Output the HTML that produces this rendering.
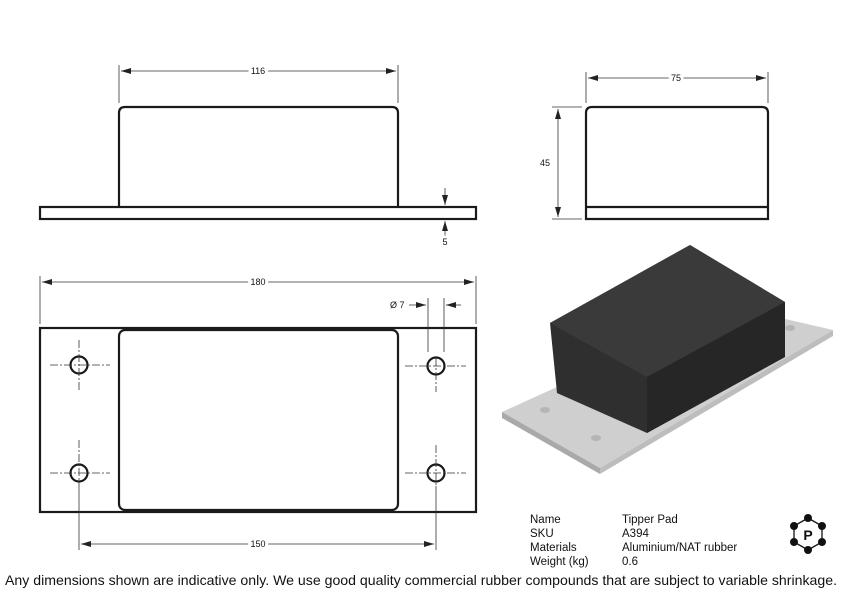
<!DOCTYPE html>
<html><head><style>
body{margin:0;background:#fff;width:843px;height:596px;overflow:hidden;font-family:"Liberation Sans",sans-serif}
svg{position:absolute;left:0;top:0}
.t{font-family:"Liberation Sans",sans-serif;font-size:9px;fill:#111;stroke:#fff;stroke-width:6px;paint-order:stroke}
.i{font-family:"Liberation Sans",sans-serif;font-size:11.5px;fill:#111}
</style></head><body>
<svg width="843" height="596" viewBox="0 0 843 596">
<defs>
<marker id="a" viewBox="0 0 10 6" refX="10" refY="3" markerWidth="10" markerHeight="6" orient="auto-start-reverse" markerUnits="userSpaceOnUse"><path d="M0,0L10,3L0,6z" fill="#222"/></marker>
</defs>
<g fill="none" stroke="#1a1a1a" stroke-width="2.2">
<rect x="40" y="207" width="436" height="12"/>
<path d="M119,207V113Q119,107 125,107H392Q398,107 398,113V207"/>
<path d="M586,219V113Q586,107 592,107H762Q768,107 768,113V219Z"/>
<line x1="586" y1="207" x2="768" y2="207"/>
<rect x="40" y="328" width="436" height="184"/>
<rect x="119" y="330" width="279" height="180" rx="6"/>
<circle cx="79" cy="365" r="8.5"/><circle cx="436" cy="366" r="8.5"/>
<circle cx="79" cy="473" r="8.5"/><circle cx="436" cy="473" r="8.5"/>
</g>
<g stroke="#333" stroke-width="0.8" fill="none">
<line x1="119" y1="65" x2="119" y2="103"/><line x1="398" y1="65" x2="398" y2="103"/>
<line x1="121" y1="71" x2="396" y2="71" marker-start="url(#a)" marker-end="url(#a)"/>
<line x1="586" y1="72" x2="586" y2="103"/><line x1="768" y1="72" x2="768" y2="103"/>
<line x1="588" y1="78" x2="766" y2="78" marker-start="url(#a)" marker-end="url(#a)"/>
<line x1="552" y1="107" x2="582" y2="107"/><line x1="552" y1="219" x2="582" y2="219"/>
<line x1="558" y1="109" x2="558" y2="217" marker-start="url(#a)" marker-end="url(#a)"/>
<line x1="445" y1="188" x2="445" y2="205" marker-end="url(#a)"/>
<line x1="445" y1="237" x2="445" y2="221" marker-end="url(#a)"/>
<line x1="40" y1="276" x2="40" y2="324"/><line x1="476" y1="276" x2="476" y2="324"/>
<line x1="42" y1="282" x2="474" y2="282" marker-start="url(#a)" marker-end="url(#a)"/>
<line x1="428" y1="298" x2="428" y2="352"/><line x1="444" y1="298" x2="444" y2="352"/>
<line x1="409" y1="305" x2="426" y2="305" marker-end="url(#a)"/>
<line x1="461" y1="305" x2="446" y2="305" marker-end="url(#a)"/>
<line x1="79" y1="486" x2="79" y2="550"/><line x1="436" y1="486" x2="436" y2="550"/>
<line x1="81" y1="544" x2="434" y2="544" marker-start="url(#a)" marker-end="url(#a)"/>
<g stroke-dasharray="8,2,2,2">
<line x1="50" y1="365" x2="110" y2="365"/><line x1="79" y1="340" x2="79" y2="392"/>
<line x1="405" y1="366" x2="466" y2="366"/><line x1="436" y1="358" x2="436" y2="392"/>
<line x1="50" y1="473" x2="110" y2="473"/><line x1="79" y1="440" x2="79" y2="486"/>
<line x1="405" y1="473" x2="466" y2="473"/><line x1="436" y1="445" x2="436" y2="486"/>
</g>
</g>
<text class="t" x="258" y="74" text-anchor="middle">116</text>
<text class="t" x="676" y="81" text-anchor="middle">75</text>
<text class="t" x="545" y="166" text-anchor="middle">45</text>
<text class="t" x="445" y="245" text-anchor="middle">5</text>
<text class="t" x="258" y="285" text-anchor="middle">180</text>
<text class="t" x="390" y="308">Ø 7</text>
<text class="t" x="258" y="547" text-anchor="middle">150</text>
<polygon points="502,412 733,307 833,330 600,468" fill="#cfcfcf"/>
<polygon points="502,412 600,468 600,474 502,418" fill="#a9a9a9"/>
<polygon points="600,468 833,330 833,336 600,474" fill="#bdbdbd"/>
<polygon points="550,323 690,245 785,302 785,357 647,433 557,393" fill="#2f2f2f"/>
<polygon points="550,323 690,245 785,302 647,377" fill="#3a3a3a"/>
<polygon points="647,377 785,302 785,357 647,433" fill="#262626"/>
<ellipse cx="545" cy="410" rx="5" ry="3" fill="#b5b5b5"/>
<ellipse cx="596" cy="438" rx="5" ry="3" fill="#b5b5b5"/>
<ellipse cx="790" cy="328" rx="5" ry="3" fill="#b5b5b5"/>
<text class="i" x="530" y="523">Name</text><text class="i" x="622" y="523">Tipper Pad</text>
<text class="i" x="530" y="537">SKU</text><text class="i" x="622" y="537">A394</text>
<text class="i" x="530" y="551">Materials</text><text class="i" x="622" y="551">Aluminium/NAT rubber</text>
<text class="i" x="530" y="565">Weight (kg)</text><text class="i" x="622" y="565">0.6</text>
<g fill="#111" stroke="#111">
<polygon points="808,518 822,526 822,542 808,550 794,542 794,526" fill="none" stroke-width="1.3"/>
<circle cx="808" cy="518" r="3.5"/><circle cx="822" cy="526" r="3.5"/><circle cx="822" cy="542" r="3.5"/>
<circle cx="808" cy="550" r="3.5"/><circle cx="794" cy="542" r="3.5"/><circle cx="794" cy="526" r="3.5"/>
</g>
<text x="808" y="540" text-anchor="middle" style="font-family:'Liberation Sans',sans-serif;font-size:14px;font-weight:bold" fill="#111">P</text>
<text x="421" y="585" text-anchor="middle" style="font-family:'Liberation Sans',sans-serif;font-size:14px" fill="#111" textLength="832" lengthAdjust="spacingAndGlyphs">Any dimensions shown are indicative only. We use good quality commercial rubber compounds that are subject to variable shrinkage.</text>
</svg>
</body></html>
